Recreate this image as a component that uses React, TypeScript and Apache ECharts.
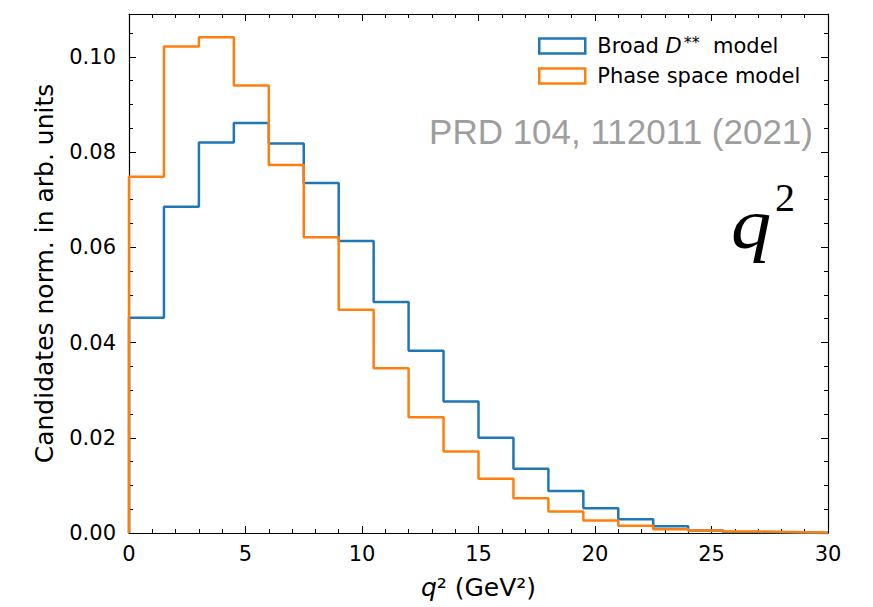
import React, { useEffect, useRef } from 'react';
import * as echarts from 'echarts';

// Bin edges of the q^2 histogram (GeV^2)
const binEdges = [0, 1.5, 3, 4.5, 6, 7.5, 9, 10.5, 12, 13.5, 15, 16.5, 18, 19.5, 21, 22.5, 24, 25.5, 27, 28.5, 30];

// Broad D** model (normalised candidates per bin)
const broadDss = [
  0.0452, 0.0685, 0.0820, 0.0861, 0.0818, 0.0735, 0.0613, 0.0485, 0.0383, 0.0276,
  0.0200, 0.0135, 0.0088, 0.0052, 0.0029, 0.0014, 0.0005, 0.0002, 0.0001, 0.0000,
];

// Phase space model
const phaseSpace = [
  0.0748, 0.1022, 0.1041, 0.0940, 0.0773, 0.0621, 0.0469, 0.0346, 0.0243, 0.0171,
  0.0114, 0.0073, 0.0045, 0.0026, 0.0015, 0.0008, 0.0005, 0.0003, 0.0002, 0.0001,
];

const seriesNames = ['Broad D** model', 'Phase space model'];
const seriesColors = ['#1f77b4', '#ff7f0e'];
const yTickStep = 0.02;
const xTickStep = 5;

function stepPoints(edges: number[], vals: number[]): number[][] {
  const pts: number[][] = [[edges[0], 0]];
  for (let i = 0; i < vals.length; i++) {
    pts.push([edges[i], vals[i]]);
    pts.push([edges[i + 1], vals[i]]);
  }
  pts.push([edges[edges.length - 1], 0]);
  return pts;
}

const FONT = 'DejaVu Sans';

export default function App() {
  const ref = useRef<HTMLDivElement>(null);

  useEffect(() => {
    if (!ref.current) return;
    const chart = echarts.init(ref.current, undefined, { renderer: 'svg' });

    const axisLine = { show: true, onZero: false, lineStyle: { color: '#000', width: 1.2 } };
    const majorTick = { show: true, inside: true, length: 7, lineStyle: { color: '#000', width: 1 } };
    const minorTickX = { show: true, splitNumber: 5, length: 4, lineStyle: { color: '#000', width: 1 } };
    const labelStyle = { fontFamily: FONT, fontSize: 21, color: '#000' };
    const yMin = 0;
    const yMax = 0.109;

    const yFormatter = (v: number) => {
      const r = v / yTickStep;
      return Math.abs(r - Math.round(r)) < 1e-6 ? v.toFixed(2) : '';
    };

    const option: any = {
      animation: false,
      backgroundColor: '#fff',
      grid: { left: 129, right: 45, top: 14, bottom: 74, containLabel: false },
      xAxis: [
        {
          type: 'value', position: 'bottom', min: 0, max: 30, interval: xTickStep,
          axisLine, axisTick: majorTick, minorTick: minorTickX,
          splitLine: { show: false }, minorSplitLine: { show: false },
          axisLabel: { ...labelStyle, margin: 10 },
          name: '{i|q}{n|² (GeV²)}',
          nameLocation: 'middle', nameGap: 42,
          nameTextStyle: {
            rich: {
              i: { fontFamily: FONT, fontSize: 25, fontStyle: 'italic', color: '#000' },
              n: { fontFamily: FONT, fontSize: 25, color: '#000' },
            },
          },
        },
        {
          type: 'value', position: 'top', min: 0, max: 30, interval: xTickStep,
          axisLine, axisTick: majorTick, minorTick: minorTickX,
          splitLine: { show: false }, axisLabel: { show: false },
        },
      ],
      yAxis: [
        {
          type: 'value', position: 'left', min: yMin, max: yMax, interval: yTickStep,
          axisLine, axisTick: majorTick, splitLine: { show: false },
          axisLabel: { ...labelStyle, margin: 13, formatter: yFormatter },
          name: 'Candidates norm. in arb. units',
          nameLocation: 'middle', nameGap: 72,
          nameTextStyle: { fontFamily: FONT, fontSize: 25, color: '#000' },
        },
        {
          type: 'value', position: 'left', min: yMin, max: yMax, interval: 0.005,
          axisLine: { show: false, onZero: false },
          axisTick: { show: true, inside: true, length: 4, lineStyle: { color: '#000', width: 1 } },
          splitLine: { show: false }, axisLabel: { show: false },
        },
        {
          type: 'value', position: 'right', min: yMin, max: yMax, interval: yTickStep,
          axisLine, axisTick: majorTick, splitLine: { show: false }, axisLabel: { show: false },
        },
        {
          type: 'value', position: 'right', min: yMin, max: yMax, interval: 0.005,
          axisLine: { show: false, onZero: false },
          axisTick: { show: true, inside: true, length: 4, lineStyle: { color: '#000', width: 1 } },
          splitLine: { show: false }, axisLabel: { show: false },
        },
      ],
      legend: {
        orient: 'vertical', left: 533, top: 29,
        itemWidth: 46, itemHeight: 15, itemGap: 9,
        selectedMode: false,
        data: seriesNames.map((n, i) => ({
          name: n, icon: 'rect',
          itemStyle: { color: '#fff', borderColor: seriesColors[i], borderWidth: 2.5 },
        })),
        formatter: (name: string) =>
          name === seriesNames[0] ? '{n|Broad }{i|D}{s|**}{n|  model}' : '{n|Phase space model}',
        textStyle: {
          padding: [0, 0, 0, 7],
          rich: {
            n: { fontFamily: FONT, fontSize: 21, color: '#000', lineHeight: 24 },
            i: { fontFamily: FONT, fontSize: 21, fontStyle: 'italic', color: '#000', lineHeight: 24 },
            s: { fontFamily: FONT, fontSize: 16, color: '#000', lineHeight: 24, verticalAlign: 'top', padding: [0, 0, 0, 2] },
          },
        },
      },
      series: [
        {
          name: seriesNames[0], type: 'line', xAxisIndex: 0, yAxisIndex: 0,
          data: stepPoints(binEdges, broadDss), showSymbol: false, symbol: 'none', clip: false,
          lineStyle: { color: seriesColors[0], width: 2.5 }, itemStyle: { color: seriesColors[0] },
          z: 2,
        },
        {
          name: seriesNames[1], type: 'line', xAxisIndex: 0, yAxisIndex: 0,
          data: stepPoints(binEdges, phaseSpace), showSymbol: false, symbol: 'none', clip: false,
          lineStyle: { color: seriesColors[1], width: 2.5 }, itemStyle: { color: seriesColors[1] },
          z: 3,
        },
      ],
      graphic: [
        {
          type: 'text', x: 813, y: 131, silent: true,
          style: {
            text: 'PRD 104, 112011 (2021)', align: 'right', verticalAlign: 'middle',
            fontFamily: 'Liberation Sans', fontSize: 35, fill: '#9e9e9e',
          },
        },
        {
          type: 'text', x: 731, y: 224, scaleX: 1.12, silent: true,
          style: {
            text: 'q', align: 'left', verticalAlign: 'middle',
            fontFamily: 'Liberation Serif', fontStyle: 'italic', fontSize: 72, fill: '#000',
          },
        },
        {
          type: 'text', x: 775, y: 197, silent: true,
          style: {
            text: '2', align: 'left', verticalAlign: 'middle',
            fontFamily: 'Liberation Serif', fontSize: 40, fill: '#000',
          },
        },
      ],
    };

    chart.setOption(option);
    return () => chart.dispose();
  }, []);

  return (
    <div
      ref={ref}
      style={{ position: 'fixed', left: 0, top: 0, width: 873, height: 607, background: '#fff' }}
    />
  );
}
